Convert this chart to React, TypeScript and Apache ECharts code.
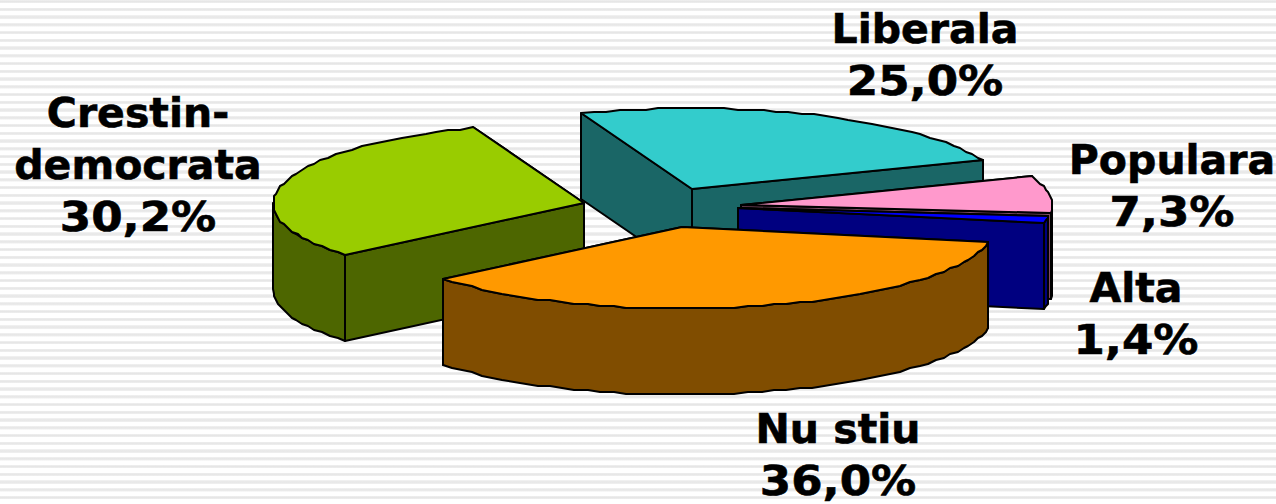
import React, { useEffect, useRef } from "react";
import * as echarts from "echarts";

const categories = ["Nu stiu", "Crestin-\ndemocrata", "Liberala", "Populara", "Alta"];
const shares = [36.0, 30.2, 25.0, 7.3, 1.4];

const topColors = ["#FF9900", "#99CC00", "#33CCCC", "#FF99CC", "#0000FF"];
const sideColors = ["#804D00", "#4D6600", "#1A6666", "#804D66", "#000080"];
const apexX = [682, 584, 692, 741, 738];
const apexY = [227, 203, 189, 205, 208];
const labelX = [838, 138, 925, 1172, 1136];
const labelY = [455, 165, 55, 186, 314];
const paintOrder = [2, 3, 4, 1, 0];

const RX = 311;
const RY = 81;
const DEPTH = 86;
const START = 10.5;
const STEP = 2.5;
const LINE = 52;

const total = shares.reduce((a, b) => a + b, 0);
const starts: number[] = [];
shares.reduce((acc, v, i) => {
  starts[i] = acc;
  return acc + (v / total) * 360;
}, START);

function rim(i: number, deg: number): [number, number] {
  const t = (deg * Math.PI) / 180;
  return [Math.round(apexX[i] + RX * Math.cos(t)), Math.round(apexY[i] + RY * Math.sin(t))];
}
// the reference's rim is a coarse polygon: interior rim points snap to a small grid
function arc(i: number, a: number, b: number): [number, number][] {
  const pts: [number, number][] = [];
  const n = Math.max(1, Math.ceil((b - a) / STEP));
  for (let k = 0; k <= n; k++) {
    const p = rim(i, a + ((b - a) * k) / n);
    pts.push(k === 0 || k === n ? p : [Math.round(p[0] / 2) * 2, Math.round(p[1] / 2) * 2]);
  }
  return pts;
}
const down = (p: [number, number]): [number, number] => [p[0], p[1] + DEPTH];

function renderSlice(_: any, api: any) {
  const i = api.value(0) as number;
  const a = starts[i];
  const b = a + (shares[i] / total) * 360;
  const apex: [number, number] = [apexX[i], apexY[i]];
  const outline = { stroke: "#000", lineWidth: 2, lineJoin: "round" };
  const side = { ...outline, fill: sideColors[i] };
  const children: any[] = [];
  const back = (deg: number) => Math.sin((deg * Math.PI) / 180);
  [a, b]
    .sort((p, q) => back(p) - back(q))
    .forEach((deg) => {
      const r = rim(i, deg);
      children.push({ type: "polygon", shape: { points: [apex, r, down(r), down(apex)] }, style: side });
    });
  [0, 360].forEach((k) => {
    const from = Math.max(a, k);
    const to = Math.min(b, k + 180);
    if (to > from) {
      const top = arc(i, from, to);
      children.push({
        type: "polygon",
        shape: { points: [...top, ...top.map(down).reverse()] },
        style: side,
      });
    }
  });
  children.push({
    type: "polygon",
    shape: { points: [apex, ...arc(i, a, b)] },
    style: { ...outline, fill: topColors[i] },
  });
  return { type: "group", children };
}

function renderLabel(_: any, api: any) {
  const i = api.value(0) as number;
  const names = categories[i].split("\n");
  const count = names.length + 1;
  const y = (k: number) => labelY[i] + (k - (count - 1) / 2) * LINE;
  const font = "bold 41px 'DejaVu Sans'";
  const text = (t: string, k: number, scaleX: number) => ({
    type: "text",
    x: labelX[i],
    y: y(k),
    scaleX,
    style: {
      text: t,
      x: 0,
      y: 0,
      align: "center",
      verticalAlign: "middle",
      lineHeight: 40,
      font,
      fill: "#000",
      stroke: "#000",
      lineWidth: 0.6,
    },
  });
  return {
    type: "group",
    children: [
      ...names.map((n, k) => text(n, k, 1)),
      text(`${shares[i].toFixed(1).replace(".", ",")}%`, names.length, 1.1),
    ],
  };
}

export default function App() {
  const ref = useRef<HTMLDivElement>(null);
  useEffect(() => {
    document.body.style.margin = "0";
    const chart = echarts.init(ref.current!, undefined, { renderer: "svg" });
    chart.setOption({
      animation: false,
      backgroundColor: "transparent",
      series: [
        {
          type: "custom",
          coordinateSystem: "none",
          silent: true,
          renderItem: renderSlice,
          data: paintOrder.map((i) => [i]),
        },
        {
          type: "custom",
          coordinateSystem: "none",
          silent: true,
          z: 5,
          renderItem: renderLabel,
          data: categories.map((_, i) => [i]),
        },
      ],
    });
    return () => chart.dispose();
  }, []);
  return (
    <div
      ref={ref}
      style={{
        width: 1276,
        height: 504,
        background:
          "repeating-linear-gradient(to bottom, #f0f0f0 0px, #e6e6e6 1.5px, #eeeeee 3px, #ffffff 3.5px, #ffffff 7.75px)",
      }}
    />
  );
}
